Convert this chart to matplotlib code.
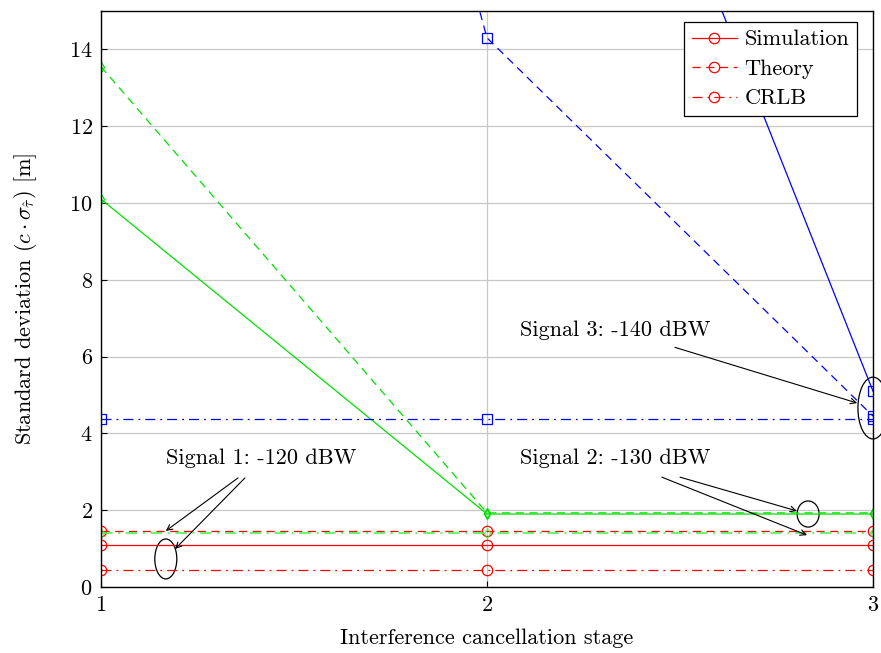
import matplotlib
matplotlib.use("Agg")
import matplotlib.pyplot as plt
from matplotlib.patches import Ellipse

plt.rcParams['font.family'] = ['cmr10', 'DejaVu Serif']
plt.rcParams['mathtext.fontset'] = 'cm'
plt.rcParams['axes.formatter.use_mathtext'] = True

# Cancellation stages
stages = [1, 2, 3]

# Signal 1 (-120 dBW)
sig1_sim = [1.10, 1.10, 1.10]
sig1_theory = [1.45, 1.45, 1.45]
sig1_crlb = [0.43, 0.43, 0.43]

# Signal 2 (-130 dBW)
sig2_sim = [10.1, 1.90, 1.90]
sig2_theory = [13.55, 1.93, 1.93]
sig2_crlb = [1.40, 1.40, 1.40]

# Signal 3 (-140 dBW)
sig3_sim = [60.0, 30.4, 5.10]
sig3_theory = [51.0, 14.3, 4.45]
sig3_crlb = [4.37, 4.37, 4.37]

y_ticks = [0, 2, 4, 6, 8, 10, 12, 14]

FS = 16

fig = plt.figure(figsize=(8.81, 6.53), dpi=100)
ax = fig.add_axes([0.1146, 0.1011, 0.8763, 0.8821])

lw = 0.9
red, green, blue = '#ff0000', '#00e000', '#0000ff'
dashed = (0, (6.5, 4.5))
dashdot = (0, (8, 4, 1.5, 4))

def series(vals, color, ls, marker, ms, alpha=1.0, lwid=lw, label=None):
    ax.plot(stages, vals, color=color, linestyle=ls, marker=marker, ms=ms,
            mfc='none', mec=color, mew=0.9, lw=lwid, alpha=alpha,
            label=label, clip_on=True)

series(sig1_sim, red, '-', 'o', 7.5, label='Simulation')
series(sig1_theory, red, dashed, 'o', 7.5, label='Theory')
series(sig1_crlb, red, dashdot, 'o', 7.5, label='CRLB')

series(sig2_sim, green, '-', 'd', 5.5)
series(sig2_theory, green, dashed, 'd', 5.5)
series(sig2_crlb, '#40f040', (0, (5.5, 2.7, 1, 2.7)), 'd', 5.5, alpha=0.75, lwid=1.5)

series(sig3_sim, blue, '-', 's', 7)
series(sig3_theory, blue, dashed, 's', 7)
series(sig3_crlb, blue, dashdot, 's', 7)

ax.set_xlim(1, 3)
ax.set_ylim(0, 15)
ax.set_xticks(stages)
ax.set_yticks(y_ticks)
ax.grid(True, color='#c8c8c8', lw=0.9)
ax.set_axisbelow(True)
ax.tick_params(direction='in', labelsize=FS, length=4, pad=6)
for s in ax.spines.values():
    s.set_linewidth(1.0)

ax.set_xlabel('Interference cancellation stage', fontsize=FS, labelpad=10)
ax.set_ylabel(r'Standard deviation ($c\cdot\sigma_{\hat{\tau}}$) [m]', fontsize=FS, labelpad=22)

leg = ax.legend(loc='upper right', bbox_to_anchor=(0.9793, 0.9809),
                fontsize=FS, frameon=True, fancybox=False,
                edgecolor='black', framealpha=1, handlelength=2.0,
                borderaxespad=0, labelspacing=0.45, handletextpad=0.35,
                borderpad=0.35)
leg.get_frame().set_linewidth(0.9)

arrow = dict(arrowstyle='->', color='black', lw=0.8, shrinkA=0, shrinkB=0)

# Signal 1 callout
ax.text(1.416, 3.36, 'Signal 1: -120 dBW', fontsize=FS, ha='center', va='center')
ax.annotate('', xy=(1.168, 1.46), xytext=(1.355, 2.84), arrowprops=arrow)
ax.annotate('', xy=(1.192, 0.99), xytext=(1.373, 2.84), arrowprops=arrow)
ax.add_patch(Ellipse((1.168, 0.73), 0.057, 1.04, fill=False, ec='black', lw=0.9))

# Signal 2 callout
ax.text(2.332, 3.36, 'Signal 2: -130 dBW', fontsize=FS, ha='center', va='center')
ax.annotate('', xy=(2.803, 1.98), xytext=(2.50, 2.86), arrowprops=arrow)
ax.annotate('', xy=(2.829, 1.35), xytext=(2.453, 2.86), arrowprops=arrow)
ax.add_patch(Ellipse((2.832, 1.90), 0.057, 0.68, fill=False, ec='black', lw=0.9))

# Signal 3 callout
ax.text(2.332, 6.69, 'Signal 3: -140 dBW', fontsize=FS, ha='center', va='center')
ax.annotate('', xy=(2.959, 4.79), xytext=(2.487, 6.24), arrowprops=arrow)
ax.add_patch(Ellipse((3.0, 4.66), 0.078, 1.61, fill=False, ec='black', lw=0.9,
                     clip_on=False))

fig.savefig('out.png', dpi=100)
